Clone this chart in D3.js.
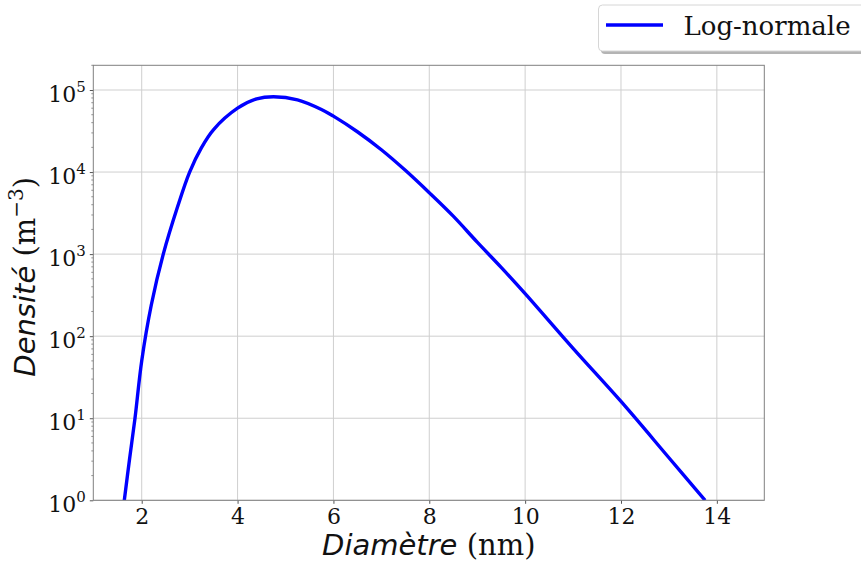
<!DOCTYPE html>
<html>
<head>
<meta charset="utf-8">
<script src="https://cdn.jsdelivr.net/npm/d3@7/dist/d3.min.js"></script>
<style>
  body { margin: 0; background: #fff; }
  svg { display: block; }
</style>
</head>
<body>
<svg id="display" width="861" height="562"></svg>
<script>
'use strict';
//constants
var WIDTH = 861;
var HEIGHT = 562;
var MARGINS = {
  top: 65.3,
  right: 96.7,
  bottom: 61.7,
  left: 93.3
};
var SERIF = '"DejaVu Serif", "Liberation Serif", serif';
var SANS = '"DejaVu Sans", "Liberation Sans", sans-serif';

//data
var diameters = [1.637, 1.75, 1.86, 2.0, 2.2, 2.45, 2.75, 3.0, 3.25, 3.5, 4.0, 4.4,
  4.75, 5.25, 5.75, 6.0, 6.5, 7.0, 7.5, 8.0, 8.5, 9.0, 9.5, 10.0, 11.0, 12.0, 13.0, 13.755];
var densities = [1, 3.3, 10, 50, 240, 1000, 3800, 10000, 20000, 33000, 60000, 78000,
  82800, 76000, 58000, 48000, 31000, 18700, 10500, 5600, 2900, 1400, 690, 330, 71, 16, 3.3, 1];
var xTicks = [2, 4, 6, 8, 10, 12, 14];
var yTicks = [1, 10, 100, 1000, 10000, 100000];
var yTickExponents = ['0', '1', '2', '3', '4', '5'];
var seriesName = 'Log-normale';

var x = d3.scaleLinear()
  .domain([0.99, 14.99])
  .range([MARGINS.left, WIDTH - MARGINS.right]);
var y = d3.scaleLog()
  .domain([1, 2e5])
  .range([HEIGHT - MARGINS.bottom, MARGINS.top]);

var svg = d3.select('#display');

drawGrid();
drawCurve();
drawAxes();
drawLabels();
drawLegend();

//helpers
function minorTicks() {
  var ticks = [];
  for (var p = 0; p <= 5; p++) {
    for (var m = 2; m <= 9; m++) {
      var v = m * Math.pow(10, p);
      if (v <= 2e5) ticks.push(v);
    }
  }
  return ticks;
}

function drawGrid() {
  var g = svg.append('g').attr('class', 'grid');
  g.selectAll('line.vx')
    .data(xTicks)
    .enter()
    .append('line')
    .attr('x1', function(d) { return x(d); })
    .attr('x2', function(d) { return x(d); })
    .attr('y1', y(2e5))
    .attr('y2', y(1))
    .attr('stroke', '#cfcfcf')
    .attr('stroke-width', 1);
  g.selectAll('line.hy')
    .data(yTicks)
    .enter()
    .append('line')
    .attr('x1', x(0.99))
    .attr('x2', x(14.99))
    .attr('y1', function(d) { return y(d); })
    .attr('y2', function(d) { return y(d); })
    .attr('stroke', '#cfcfcf')
    .attr('stroke-width', 1);
}

function drawCurve() {
  var points = diameters.map(function(d, i) { return [d, densities[i]]; });
  var line = d3.line()
    .x(function(d) { return x(d[0]); })
    .y(function(d) { return y(d[1]); })
    .curve(d3.curveCatmullRom.alpha(0.5));

  svg.append('defs')
    .append('clipPath')
    .attr('id', 'plot-clip')
    .append('rect')
    .attr('x', MARGINS.left)
    .attr('y', MARGINS.top)
    .attr('width', WIDTH - MARGINS.left - MARGINS.right)
    .attr('height', HEIGHT - MARGINS.top - MARGINS.bottom);

  svg.append('path')
    .attr('d', line(points))
    .attr('fill', 'none')
    .attr('stroke', '#0000ff')
    .attr('stroke-width', 3.4)
    .attr('clip-path', 'url(#plot-clip)');
}

function drawAxes() {
  var xAxis = svg.append('g')
    .attr('transform', 'translate(0,' + (HEIGHT - MARGINS.bottom) + ')')
    .call(d3.axisBottom(x).tickValues(xTicks).tickSize(3.5).tickPadding(5)
      .tickFormat(d3.format('d')));
  xAxis.select('.domain').remove();
  xAxis.selectAll('.tick line').attr('stroke', '#555');
  xAxis.selectAll('.tick text')
    .attr('font-family', SERIF)
    .attr('font-size', 22)
    .attr('fill', '#111');

  var yAxis = svg.append('g')
    .attr('transform', 'translate(' + MARGINS.left + ',0)')
    .call(d3.axisLeft(y).tickValues(yTicks).tickSize(3.5).tickPadding(4)
      .tickFormat(function() { return ''; }));
  yAxis.select('.domain').remove();
  yAxis.selectAll('.tick line').attr('stroke', '#555');
  var labels = yAxis.selectAll('.tick text')
    .attr('font-family', SERIF)
    .attr('font-size', 22)
    .attr('fill', '#111')
    .attr('dy', '0.5em');
  labels.append('tspan').text('10');
  labels.append('tspan')
    .attr('font-size', 15)
    .attr('dy', -10)
    .text(function(d, i) { return yTickExponents[i]; });

  svg.append('g')
    .selectAll('line')
    .data(minorTicks())
    .enter()
    .append('line')
    .attr('x1', MARGINS.left - 2)
    .attr('x2', MARGINS.left)
    .attr('y1', function(d) { return y(d); })
    .attr('y2', function(d) { return y(d); })
    .attr('stroke', '#777')
    .attr('stroke-width', 0.8);

  //frame
  svg.append('rect')
    .attr('x', MARGINS.left)
    .attr('y', MARGINS.top)
    .attr('width', WIDTH - MARGINS.left - MARGINS.right)
    .attr('height', HEIGHT - MARGINS.top - MARGINS.bottom)
    .attr('fill', 'none')
    .attr('stroke', '#808080')
    .attr('stroke-width', 1);
}

function drawLabels() {
  var cx = (MARGINS.left + WIDTH - MARGINS.right) / 2;
  var cy = (MARGINS.top + HEIGHT - MARGINS.bottom) / 2;

  var xl = svg.append('text')
    .attr('x', cx)
    .attr('y', 555)
    .attr('text-anchor', 'middle')
    .attr('font-size', 29)
    .attr('fill', '#111');
  xl.append('tspan').attr('font-family', SANS).attr('font-style', 'italic').text('Diamètre');
  xl.append('tspan').attr('font-family', SERIF).text(' (nm)');

  var yl = svg.append('text')
    .attr('transform', 'translate(35,' + (cy - 6) + ') rotate(-90)')
    .attr('text-anchor', 'middle')
    .attr('font-size', 29)
    .attr('fill', '#111');
  yl.append('tspan').attr('font-family', SANS).attr('font-style', 'italic').text('Densité');
  yl.append('tspan').attr('font-family', SERIF).text(' (m');
  yl.append('tspan').attr('font-family', SERIF).attr('font-size', 20).attr('dy', -12).text('−3');
  yl.append('tspan').attr('font-family', SERIF).attr('dy', 12).text(')');
}

function drawLegend() {
  var g = svg.append('g').attr('class', 'legend');
  g.append('rect')
    .attr('x', 601)
    .attr('y', 8)
    .attr('width', 280)
    .attr('height', 46)
    .attr('rx', 4)
    .attr('fill', '#777')
    .attr('opacity', 0.55);
  g.append('rect')
    .attr('x', 598.5)
    .attr('y', 5)
    .attr('width', 280)
    .attr('height', 46)
    .attr('rx', 4)
    .attr('fill', '#fff')
    .attr('stroke', '#d6d6d6')
    .attr('stroke-width', 1);
  g.append('line')
    .attr('x1', 606)
    .attr('x2', 663)
    .attr('y1', 25)
    .attr('y2', 25)
    .attr('stroke', '#0000ff')
    .attr('stroke-width', 3.4);
  g.append('text')
    .attr('x', 683.5)
    .attr('y', 35)
    .attr('font-family', SERIF)
    .attr('font-size', 26)
    .attr('fill', '#111')
    .text(seriesName);
}
</script>
</body>
</html>
